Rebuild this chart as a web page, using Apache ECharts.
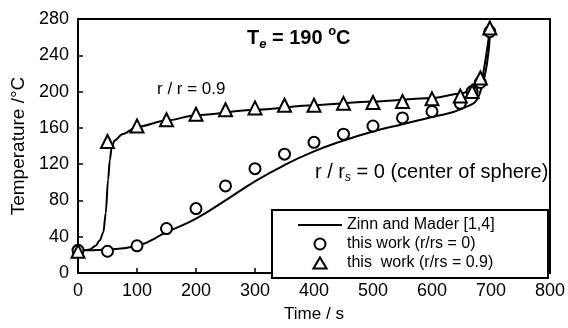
<!DOCTYPE html>
<html>
<head>
<meta charset="utf-8">
<script src="https://cdn.jsdelivr.net/npm/echarts@6/dist/echarts.min.js"></script>
<style>
  html, body { margin: 0; padding: 0; background: #fff; }
  #chart { width: 568px; height: 328px; }
</style>
</head>
<body>
<div id="chart"></div>
<script>
// Zinn and Mader curves: [time, temperature]
const zinnSurface = [[0, 25], [10, 25], [20, 26], [30, 30], [37, 36], [43, 45], [47, 66], [51, 103],
  [54, 125], [57, 138], [62, 146], [75, 153], [100, 161], [150, 168], [200, 174], [300, 180],
  [400, 185], [500, 189], [600, 193], [650, 198], [680, 205], [698, 268]]
const zinnCenter = [[0, 25], [50, 26], [100, 30], [150, 45], [200, 60], [250, 80], [300, 101],
  [350, 119], [400, 134], [450, 146], [500, 156], [550, 164], [600, 172], [650, 181], [680, 196], [698, 266]]

// this work, r/rs = 0 (circles)
const circleTimes = [0, 50, 100, 150, 200, 250, 300, 350, 400, 450, 500, 550, 600, 648, 668, 682, 698]
const circleTemps = [25, 24, 30, 49, 71, 96, 115, 131, 144, 153, 162, 171, 178, 187, 200, 210, 266]

// this work, r/rs = 0.9 (triangles)
const triTimes = [0, 50, 100, 150, 200, 250, 300, 350, 400, 450, 500, 550, 600, 648, 668, 682, 698]
const triTemps = [24, 145, 162, 169, 175, 180, 182, 185, 185, 187, 188, 189, 192, 195, 200, 215, 270]

const legendNames = ["Zinn and Mader [1,4]", "this work (r/rs = 0)", "this  work (r/rs = 0.9)"]

const FONT = "'Liberation Sans', Arial, sans-serif"
const zip = (xs, ys) => xs.map((x, i) => [x, ys[i]])

const chart = echarts.init(document.getElementById("chart"))

const lineStyle = { color: "#000", width: 2 }
const markerStyle = { color: "#fff", borderColor: "#000", borderWidth: 2, opacity: 1 }

chart.setOption({
  animation: false,
  textStyle: { fontFamily: FONT, color: "#000" },
  grid: {
    left: 78, right: 17, top: 19, bottom: 50,
    show: true, borderColor: "#000", borderWidth: 2,
  },
  xAxis: {
    type: "value",
    min: 0, max: 800, interval: 100,
    name: "Time / s",
    nameLocation: "middle",
    nameGap: 33,
    nameTextStyle: { fontSize: 17, color: "#000", fontFamily: FONT },
    axisLine: { lineStyle: { color: "#000", width: 2 } },
    axisTick: { inside: true, length: 5, lineStyle: { color: "#000", width: 1.5 } },
    axisLabel: { fontSize: 18, color: "#000", margin: 9, fontFamily: FONT },
    splitLine: { show: false },
  },
  yAxis: {
    type: "value",
    min: 0, max: 280, interval: 40,
    name: "Temperature /°C",
    nameLocation: "middle",
    nameGap: 48,
    nameTextStyle: { fontSize: 19, color: "#000", fontFamily: FONT },
    axisLine: { show: true, lineStyle: { color: "#000", width: 2 } },
    axisTick: { show: true, inside: true, length: 5, lineStyle: { color: "#000", width: 1.5 } },
    axisLabel: { fontSize: 18, color: "#000", margin: 9, fontFamily: FONT },
    splitLine: { show: false },
  },
  legend: {
    data: [
      { name: legendNames[0], icon: "path://M0,0L44,0L44,2L0,2Z" },
      { name: legendNames[1], icon: "circle" },
      { name: legendNames[2], icon: "path://M6,0L12,10L0,10Z" },
    ],
    orient: "vertical",
    left: 293, top: 212,
    itemWidth: 44, itemHeight: 11, itemGap: 3,
    textStyle: { fontSize: 16, color: "#000", fontFamily: FONT },
    selectedMode: false,
  },
  graphic: [
    {
      type: "rect", z: 1,
      shape: { x: 272, y: 210, width: 276, height: 68 },
      style: { fill: "#fff", stroke: "#000", lineWidth: 2 },
    },
    {
      type: "text", left: 247, top: 25, z: 10,
      style: {
        text: "{b|T}{sub|e}{b| = 190 }{sup|o}{b|C}",
        rich: {
          b: { fontSize: 20, fontWeight: "bold", lineHeight: 26, fontFamily: FONT, fill: "#000" },
          sub: { fontSize: 13, fontWeight: "bold", fontStyle: "italic", verticalAlign: "bottom", fontFamily: FONT, fill: "#000" },
          sup: { fontSize: 13, fontWeight: "bold", verticalAlign: "top", fontFamily: FONT, fill: "#000" },
        },
      },
    },
    {
      type: "text", left: 157, top: 81, z: 10,
      style: { text: "r / r = 0.9", fontSize: 17, fontFamily: FONT, fill: "#000" },
    },
    {
      type: "text", left: 315, top: 162, z: 10,
      style: {
        text: "{n|r / r}{sub|s}{n| = 0 (center of sphere)}",
        rich: {
          n: { fontSize: 20, lineHeight: 24, fontFamily: FONT, fill: "#000" },
          sub: { fontSize: 12, fontStyle: "italic", verticalAlign: "bottom", fontFamily: FONT, fill: "#000" },
        },
      },
    },
  ],
  series: [
    {
      name: legendNames[0], type: "line", data: zinnSurface,
      symbol: "none", smooth: 0.3, smoothMonotone: "x",
      lineStyle, itemStyle: { color: "#000" }, z: 2,
    },
    {
      name: legendNames[0], type: "line", data: zinnCenter,
      symbol: "none", smooth: 0.5,
      lineStyle, itemStyle: { color: "#000" }, z: 2,
    },
    {
      name: legendNames[1], type: "scatter", data: zip(circleTimes, circleTemps),
      symbol: "circle", symbolSize: 11, itemStyle: markerStyle, z: 3,
    },
    {
      name: legendNames[2], type: "scatter", data: zip(triTimes, triTemps),
      symbol: "triangle", symbolSize: 13, itemStyle: markerStyle, z: 4,
    },
  ],
})
</script>
</body>
</html>
